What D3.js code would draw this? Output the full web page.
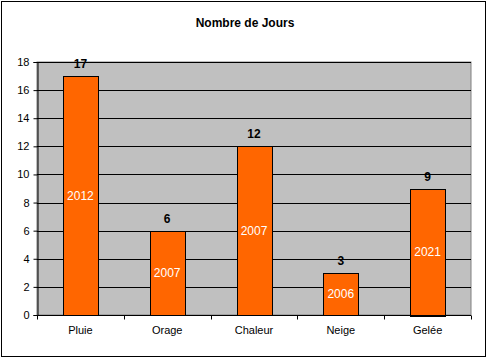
<!DOCTYPE html>
<html><head><meta charset="utf-8">
<script src="https://cdn.jsdelivr.net/npm/d3@7"></script>
<style>body{margin:0;background:#fff}svg{display:block;font-family:Arial,"Liberation Sans",sans-serif}</style>
</head><body><svg id="c" width="487" height="359"></svg>
<script>
const categories = ["Pluie","Orage","Chaleur","Neige","Gelée"];
const values = [17,6,12,3,9];
const years = ["2012","2007","2007","2006","2021"];
const yTicks = [0,2,4,6,8,10,12,14,16,18];
const title = "Nombre de Jours";

const svg = d3.select("#c");
svg.append("rect").attr("x",1.5).attr("y",1.5).attr("width",484).attr("height",355)
  .attr("fill","#fff").attr("stroke","#000").attr("stroke-width",1);
svg.append("text").attr("x",245).attr("y",27).attr("text-anchor","middle")
  .attr("font-size",12).attr("font-weight","bold").text(title);

const L=37, R=471, T=62, B=315;
const x = d3.scaleBand().domain(categories).range([L,R]).paddingInner(0.6).paddingOuter(0.3);
const y = d3.scaleLinear().domain([0,18]).range([B,T]);

svg.append("rect").attr("x",L).attr("y",T).attr("width",R-L).attr("height",B-T)
  .attr("fill","#C0C0C0").attr("stroke","#808080");
svg.append("g").selectAll("line").data(yTicks.slice(1)).join("line")
  .attr("x1",L).attr("x2",R).attr("y1",d=>Math.round(y(d))+0.5).attr("y2",d=>Math.round(y(d))+0.5)
  .attr("stroke","#000");

svg.append("g").selectAll("rect").data(values).join("rect")
  .attr("x",(d,i)=>Math.round(x(categories[i]))+0.5).attr("y",d=>Math.round(y(d))+0.5)
  .attr("width",Math.round(x.bandwidth())).attr("height",d=>Math.round(B-y(d)))
  .attr("fill","#FF6600").attr("stroke","#000");

svg.append("g").selectAll("text").data(values).join("text")
  .attr("x",(d,i)=>x(categories[i])+x.bandwidth()/2).attr("y",d=>y(d)-8)
  .attr("text-anchor","middle").attr("font-size",12).attr("font-weight","bold").text(d=>d);

svg.append("g").selectAll("text").data(values).join("text")
  .attr("x",(d,i)=>x(categories[i])+x.bandwidth()/2).attr("y",d=>(y(d)+B)/2+4)
  .attr("text-anchor","middle").attr("font-size",12).attr("fill","#fff").text((d,i)=>years[i]);

const ya = svg.append("g").attr("transform",`translate(${L+0.5},0)`)
  .call(d3.axisLeft(y).tickValues(yTicks).tickSize(4).tickPadding(4));
ya.selectAll("text").attr("font-size",11).attr("font-family","Arial,'Liberation Sans',sans-serif");
ya.selectAll("path,line").attr("stroke","#000");

const xEdges = d3.scalePoint().domain(d3.range(6)).range([L,R]);
const xa = svg.append("g").attr("transform",`translate(0,${B+0.5})`);
xa.append("line").attr("x1",L).attr("x2",R).attr("stroke","#000");
xa.selectAll("line.t").data(d3.range(6)).join("line").attr("class","t")
  .attr("x1",d=>Math.round(xEdges(d))+0.5).attr("x2",d=>Math.round(xEdges(d))+0.5).attr("y1",0).attr("y2",4).attr("stroke","#000");
xa.selectAll("text").data(categories).join("text")
  .attr("x",d=>x(d)+x.bandwidth()/2).attr("y",18).attr("text-anchor","middle")
  .attr("font-size",11).text(d=>d);
</script></body></html>
